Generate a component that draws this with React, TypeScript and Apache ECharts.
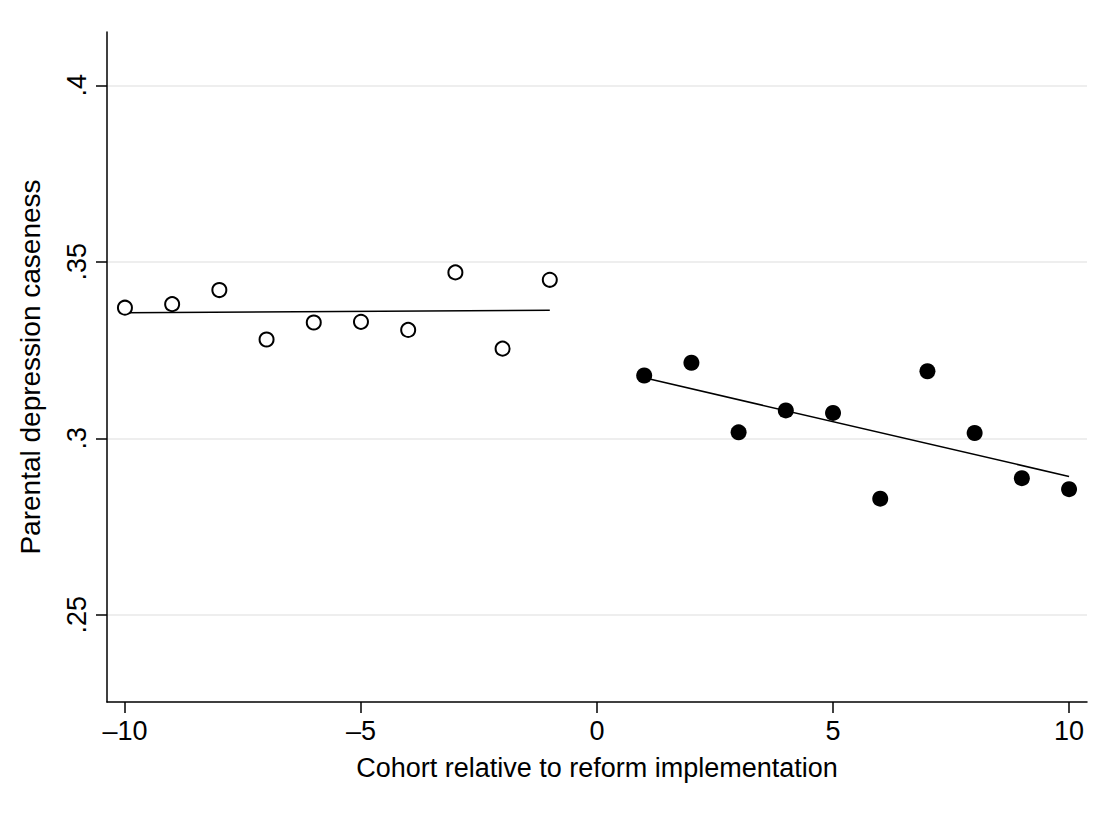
import React, { useEffect, useRef } from "react";
import * as echarts from "echarts";

const preX = [-10, -9, -8, -7, -6, -5, -4, -3, -2, -1];
const preY = [0.337, 0.338, 0.342, 0.328, 0.3328, 0.333, 0.3307, 0.347, 0.3254, 0.3449];
const postX = [1, 2, 3, 4, 5, 6, 7, 8, 9, 10];
const postY = [0.3178, 0.3214, 0.3017, 0.3079, 0.3072, 0.2829, 0.319, 0.3015, 0.2887, 0.2856];
const preFitX = [-10, -1];
const preFitY = [0.3356, 0.33627];
const postFitX = [1, 10];
const postFitY = [0.31713, 0.2892];
const xTicks = [-10, -5, 0, 5, 10];
const yTicks = [0.25, 0.3, 0.35, 0.4];
const xTitle = "Cohort relative to reform implementation";
const yTitle = "Parental depression caseness";

const FONT = "'Liberation Sans', Arial, sans-serif";

export default function App() {
  const ref = useRef<HTMLDivElement>(null);
  useEffect(() => {
    if (!ref.current) return;
    const chart = echarts.init(ref.current, null, { renderer: "svg" });
    const zip = (xs: number[], ys: number[]) => xs.map((x, i) => [x, ys[i]]);
    chart.setOption({
      animation: false,
      backgroundColor: "#ffffff",
      textStyle: { fontFamily: FONT },
      grid: { left: 107, right: 26, top: 32, bottom: 118, containLabel: false },
      xAxis: {
        type: "value",
        min: -10.38,
        max: 10.38,
        name: xTitle,
        nameLocation: "middle",
        nameGap: 52,
        nameTextStyle: { fontSize: 27, color: "#000", fontFamily: FONT },
        axisLine: { show: true, onZero: false, lineStyle: { color: "#000", width: 1.5 } },
        axisTick: { show: true, length: 11, customValues: xTicks, lineStyle: { color: "#000", width: 1.5 } },
        axisLabel: {
          customValues: xTicks,
          fontSize: 27,
          color: "#000",
          margin: 15,
          fontFamily: FONT,
          formatter: (v: number) => (v < 0 ? "\u2013" + Math.abs(v) : String(v)),
        },
        splitLine: { show: false },
      },
      yAxis: {
        type: "value",
        min: 0.2253,
        max: 0.4151,
        name: yTitle,
        nameLocation: "middle",
        nameGap: 63,
        nameTextStyle: { fontSize: 28, color: "#000", fontFamily: FONT },
        axisLine: { show: true, onZero: false, lineStyle: { color: "#000", width: 1.5 } },
        axisTick: { show: true, length: 11, customValues: yTicks, lineStyle: { color: "#000", width: 1.5 } },
        axisLabel: {
          customValues: yTicks,
          rotate: 90,
          fontSize: 27,
          color: "#000",
          margin: 17,
          fontFamily: FONT,
          formatter: (v: number) => String(+v.toFixed(4)).replace(/^0/, ""),
        },
        splitLine: { show: true, lineStyle: { color: "#e8e8e8", width: 1.5 } },
      },
      series: [
        {
          type: "line",
          data: zip(preFitX, preFitY),
          symbol: "none",
          lineStyle: { color: "#000", width: 1.5 },
          z: 2,
        },
        {
          type: "line",
          data: zip(postFitX, postFitY),
          symbol: "none",
          lineStyle: { color: "#000", width: 1.5 },
          z: 2,
        },
        {
          type: "scatter",
          data: zip(preX, preY),
          symbol: "circle",
          symbolSize: 14,
          itemStyle: { color: "#fff", borderColor: "#000", borderWidth: 2, opacity: 1 },
          z: 3,
        },
        {
          type: "scatter",
          data: zip(postX, postY),
          symbol: "circle",
          symbolSize: 16,
          itemStyle: { color: "#000", opacity: 1 },
          z: 3,
        },
      ],
    });
    return () => chart.dispose();
  }, []);
  return <div ref={ref} style={{ width: 1113, height: 820, margin: -8 }} />;
}
